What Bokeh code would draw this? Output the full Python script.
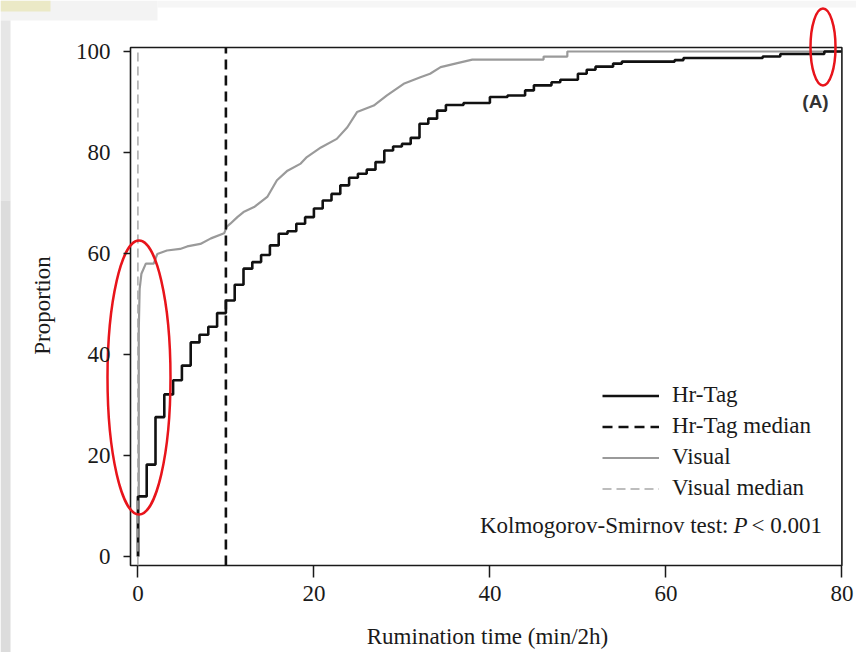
import math
from bokeh.plotting import figure
from bokeh.models import Legend, LegendItem, Label, BoxAnnotation, FixedTicker
from bokeh.embed import file_html
from bokeh.resources import INLINE

# ---------------- data ----------------
hr_minutes = [0, 1, 2, 3, 4, 5, 6, 7, 8, 9, 10, 11, 12, 13, 14, 15, 16, 17, 18, 19,
              20, 21, 22, 23, 24, 25, 26, 27, 28, 29, 30, 31, 32, 33, 34, 35, 37, 40,
              42, 44, 45, 47, 48, 50, 51, 52, 54, 55, 61, 62, 71, 73, 78]
hr_pct = [11.9, 18.2, 27.6, 32.1, 34.9, 37.8, 42.4, 43.9, 45.5, 48.2,
          50.7, 53.8, 57.0, 58.3, 59.7, 61.6, 63.9, 64.4, 65.9, 67.2,
          68.9, 70.5, 71.8, 73.5, 75.0, 75.8, 76.6, 78.1, 80.4, 81.2,
          81.7, 82.9, 85.7, 86.7, 88.3, 89.4, 89.8, 91.0, 91.3, 92.3,
          93.3, 93.9, 94.4, 95.6, 96.4, 97.0, 97.6, 98.0, 98.3, 98.7,
          99.0, 99.5, 100.0]

visual_minutes = [0.1, 0.1, 0.2, 0.4, 0.9, 1.8, 2.2, 3.3, 4.8, 5.6,
                  7.1, 8.3, 9.8, 10.1, 10.5, 11.3, 12.0, 13.2, 14.7, 15.8,
                  17.0, 18.5, 19.2, 20.8, 22.6, 23.8, 24.9, 26.8, 28.3, 30.2,
                  32.1, 33.2, 34.4, 36.3, 38.0, 46.1, 46.1, 48.8, 48.8, 80]
visual_pct = [0, 45, 53, 56, 58, 58, 59.9, 60.6, 60.9, 61.4,
              61.9, 63.0, 64.0, 65.3, 65.9, 67.2, 68.2, 69.2, 71.2, 74.5,
              76.4, 77.8, 79.1, 81.0, 82.7, 85.0, 88.0, 89.3, 91.3, 93.6,
              94.9, 95.6, 96.9, 97.7, 98.4, 98.4, 99.0, 99.0, 100, 100]

hr_median = 10
visual_median = 0

x_ticks = [0, 20, 40, 60, 80]
y_ticks = [0, 20, 40, 60, 80, 100]

x_title = "Rumination time (min/2h)"
y_title = "Proportion"
legend_labels = ["Hr-Tag", "Hr-Tag median", "Visual", "Visual median"]

# ---------------- layout helpers (pixel -> data, for annotations only) ----------------
W, H = 856, 652
PX0, SX = 137.4, 8.8     # page x of minute 0, pixels per minute
PY0, SY = 556.0, 5.05    # page y of 0 %, pixels per percent


def dx(px):
    return (px - PX0) / SX


def dy(py):
    return (PY0 - py) / SY


SERIF = "Liberation Serif"
FS = "23px"
INK = "#1a1a1a"
BOX_L, BOX_R, BOX_B, BOX_T = dx(130), 80.0, dy(565), dy(47)

p = figure(width=W, height=H, x_range=(dx(0), dx(W)), y_range=(dy(H), dy(0)),
           output_backend="svg", toolbar_location=None,
           min_border_left=0, min_border_right=0,
           min_border_top=0, min_border_bottom=0)
p.grid.visible = False
p.outline_line_color = None
p.background_fill_color = "white"
p.border_fill_color = "white"

# screenshot-like decorations around the chart
for (l, r, t, b, c) in [(0, 157, 0, 20, "#f3f3f3"), (157, W, 0, 7, "#f6f6f6"),
                        (0, 10, 20, 200, "#e6e6e6"), (0, 10, 200, H, "#dcdcdc"),
                        (0, 50, 0, 11, "#ebe9c6")]:
    p.add_layout(BoxAnnotation(left=dx(l), right=dx(r), top=dy(t), bottom=dy(b),
                               fill_color=c, fill_alpha=1, line_alpha=0, level="underlay"))

# frame box
p.add_layout(BoxAnnotation(left=BOX_L, right=BOX_R, bottom=BOX_B, top=BOX_T,
                           fill_alpha=0, line_color=INK, line_alpha=1, line_width=1.6,
                           level="underlay"))

# axes placed on the box edges
for ax in (p.xaxis, p.yaxis):
    ax.axis_line_color = None
    ax.major_tick_line_color = INK
    ax.major_tick_line_width = 1.5
    ax.major_tick_in = 0
    ax.minor_tick_line_color = None
    ax.major_label_text_font = SERIF
    ax.major_label_text_font_size = FS
    ax.major_label_text_color = INK
p.xaxis.ticker = FixedTicker(ticks=x_ticks)
p.yaxis.ticker = FixedTicker(ticks=y_ticks)
p.xaxis.fixed_location = BOX_B
p.yaxis.fixed_location = BOX_L
p.xaxis.major_tick_out = 12
p.yaxis.major_tick_out = 7
p.xaxis.major_label_standoff = 8
p.yaxis.major_label_standoff = 13

# curves
hr_xs = [0] + hr_minutes + [80]
hr_ys = [0] + hr_pct + [hr_pct[-1]]
r_vis = p.line(visual_minutes, visual_pct, line_color="#9a9a9a", line_width=2.2)
r_hr = p.step(hr_xs, hr_ys, mode="after", line_color="#111111", line_width=2.6)

# medians
r_vmed = p.segment(x0=[visual_median], y0=[BOX_B], x1=[visual_median], y1=[BOX_T],
                   line_color="#a8a8a8", line_width=1.5, line_dash="9 5")
r_hmed = p.segment(x0=[hr_median], y0=[BOX_B], x1=[hr_median], y1=[BOX_T],
                   line_color="#111111", line_width=2.6, line_dash="10 6")

# legend
legend = Legend(items=[
    LegendItem(label=legend_labels[0], renderers=[r_hr]),
    LegendItem(label=legend_labels[1], renderers=[r_hmed]),
    LegendItem(label=legend_labels[2], renderers=[r_vis]),
    LegendItem(label=legend_labels[3], renderers=[r_vmed]),
], location=(602, 150.5))
legend.border_line_color = None
legend.background_fill_alpha = 0
legend.label_text_font = SERIF
legend.label_text_font_size = FS
legend.label_text_color = INK
legend.glyph_width = 57
legend.glyph_height = 27
legend.label_height = 27
legend.label_standoff = 13
legend.spacing = 4
legend.padding = 0
legend.margin = 0
p.add_layout(legend)

# Kolmogorov-Smirnov annotation
ks_y = dy(537)
p.add_layout(Label(x=dx(728), y=ks_y, text="Kolmogorov-Smirnov test:", text_align="right",
                   text_font=SERIF, text_font_size=FS, text_color=INK))
p.add_layout(Label(x=dx(733), y=ks_y, text="P", text_align="left", text_font_style="italic",
                   text_font=SERIF, text_font_size=FS, text_color=INK))
p.add_layout(Label(x=dx(751), y=ks_y, text="< 0.001", text_align="left",
                   text_font=SERIF, text_font_size=FS, text_color=INK))

# panel tag
p.add_layout(Label(x=dx(815), y=dy(101), text="(A)", text_align="center",
                   text_baseline="middle", text_font="Liberation Sans",
                   text_font_style="bold", text_font_size="19px", text_color="#333333"))

# axis titles
p.add_layout(Label(x=dx(42), y=dy(305), text=y_title, angle=math.pi / 2,
                   text_align="center", text_baseline="middle",
                   text_font=SERIF, text_font_size=FS, text_color=INK))
p.add_layout(Label(x=dx(487), y=dy(636), text=x_title, text_align="center",
                   text_baseline="middle",
                   text_font=SERIF, text_font_size=FS, text_color=INK))

# red highlight ellipses (centre/size from the reference's pixels)
ell_cx = [dx(138.5), dx(822.5)]
ell_cy = [dy(377), dy(46.5)]
ell_w = [63 / SX, 25 / SX]
ell_h = [274 / SY, 77 / SY]
p.ellipse(x=ell_cx, y=ell_cy, width=ell_w, height=ell_h,
          fill_color=None, line_color="#e8141b", line_width=2.5)

open("out.html", "w").write(file_html(p, INLINE))
